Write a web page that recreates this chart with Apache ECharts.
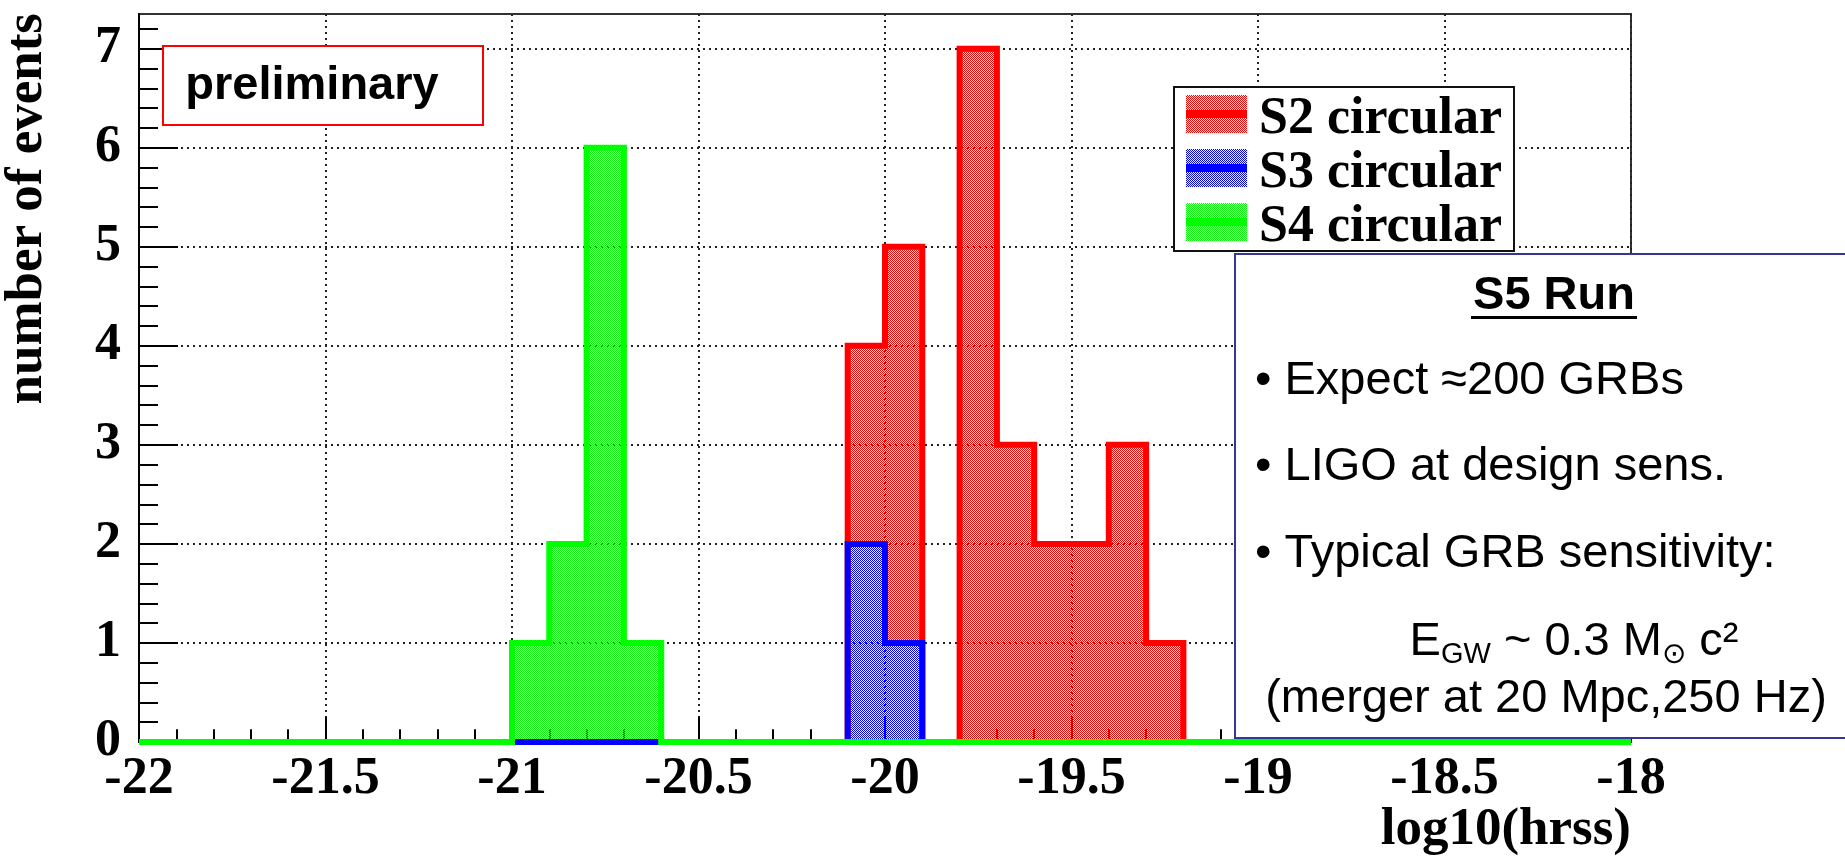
<!DOCTYPE html>
<html>
<head>
<meta charset="utf-8">
<script src="https://cdn.jsdelivr.net/npm/echarts@6.0.0/dist/echarts.min.js"></script>
<style>
html,body{margin:0;padding:0;background:#ffffff;}
#chart{width:1845px;height:857px;}
</style>
</head>
<body>
<div id="chart"></div>
<script>
// ---- data ----
// histogram bin edges, 0.1 wide, from -22 to -18
const binEdges = [
  -22.0,-21.9,-21.8,-21.7,-21.6,-21.5,-21.4,-21.3,-21.2,-21.1,
  -21.0,-20.9,-20.8,-20.7,-20.6,-20.5,-20.4,-20.3,-20.2,-20.1,
  -20.0,-19.9,-19.8,-19.7,-19.6,-19.5,-19.4,-19.3,-19.2,-19.1,
  -19.0,-18.9,-18.8,-18.7,-18.6,-18.5,-18.4,-18.3,-18.2,-18.1,
  -18.0
];
const s2Counts = [
  0,0,0,0,0,0,0,0,0,0,
  0,0,0,0,0,0,0,0,0,4,
  5,0,7,3,2,2,3,1,0,0,
  0,0,0,0,0,0,0,0,0,0
];
const s3Counts = [
  0,0,0,0,0,0,0,0,0,0,
  0,0,0,0,0,0,0,0,0,2,
  1,0,0,0,0,0,0,0,0,0,
  0,0,0,0,0,0,0,0,0,0
];
const s4Counts = [
  0,0,0,0,0,0,0,0,0,0,
  1,2,6,1,0,0,0,0,0,0,
  0,0,0,0,0,0,0,0,0,0,
  0,0,0,0,0,0,0,0,0,0
];
const seriesNames = ['S2 circular', 'S3 circular', 'S4 circular'];
const yTickValues = [0, 1, 2, 3, 4, 5, 6, 7];
const infoLines = [
  '\u2022 Expect \u2248200 GRBs',
  '\u2022 LIGO at design sens.',
  '\u2022 Typical GRB sensitivity:'
];

// ---- helpers ----
const SERIF = '"Liberation Serif","Times New Roman",serif';
const SANS = '"Liberation Sans",Arial,"DejaVu Sans",sans-serif';
const colors = ['#ff0000', '#0000ff', '#00ff00'];

function histPoints(counts) {
  const pts = counts.map((c, i) => [binEdges[i], c]);
  pts.push([binEdges[counts.length], counts[counts.length - 1]]);
  return pts;
}
function makePattern(color) {
  const c = document.createElement('canvas');
  c.width = 2; c.height = 2;
  const ctx = c.getContext('2d');
  ctx.fillStyle = color;
  ctx.fillRect(0, 0, 1, 1);
  ctx.fillRect(1, 1, 1, 1);
  return { image: c, repeat: 'repeat' };
}
const minorY = [];
yTickValues.forEach(v => { for (let k = 1; k < 5; k++) { const m = +(v + 0.2 * k).toFixed(2); if (m < 7.35) minorY.push(m); } });

const allCounts = [s2Counts, s3Counts, s4Counts];
const series = allCounts.map((counts, i) => ({
  type: 'line',
  name: seriesNames[i],
  data: histPoints(counts),
  step: 'end',
  symbol: 'none',
  showSymbol: false,
  clip: false,
  xAxisIndex: 0,
  yAxisIndex: 0,
  lineStyle: { color: colors[i], width: 6, cap: 'butt', join: 'miter' },
  itemStyle: { color: colors[i] },
  areaStyle: { color: makePattern(colors[i]), opacity: 1, origin: 'start' },
  emphasis: { disabled: true },
  silent: true
}));

// legend (ROOT style box) geometry
const LEG = { x: 1174, y: 87, w: 340, h: 164, swX: 1186, swW: 61, swH: 38, sw0: 114, pitch: 54, txtX: 1259, txt0: 120 };

const graphics = [];
graphics.push({
  type: 'rect', z: 110,
  shape: { x: LEG.x, y: LEG.y, width: LEG.w, height: LEG.h },
  style: { fill: '#ffffff', stroke: '#111', lineWidth: 2 }
});
seriesNames.forEach((n, i) => {
  const cy = LEG.sw0 + i * LEG.pitch;
  graphics.push({
    type: 'rect', z: 111,
    shape: { x: LEG.swX, y: cy - LEG.swH / 2, width: LEG.swW, height: LEG.swH },
    style: { fill: makePattern(colors[i]) }
  });
  graphics.push({
    type: 'rect', z: 112,
    shape: { x: LEG.swX, y: cy - 4, width: LEG.swW, height: 8 },
    style: { fill: colors[i] }
  });
  graphics.push({
    type: 'text', z: 112, x: LEG.txtX, y: LEG.txt0 + i * LEG.pitch,
    style: { text: n, font: 'bold 52px ' + SERIF, fill: '#000', align: 'left', verticalAlign: 'middle' }
  });
});
// y axis title
graphics.push({
  type: 'text', x: 27, y: 13, rotation: Math.PI / 2, z: 100,
  style: { text: 'number of events', font: 'bold 53px ' + SERIF, fill: '#000', align: 'right', verticalAlign: 'middle' }
});
// x axis title
graphics.push({
  type: 'text', x: 1631, y: 830, z: 100,
  style: { text: 'log10(hrss)', font: 'bold 53px ' + SERIF, fill: '#000', align: 'right', verticalAlign: 'middle' }
});
// preliminary box
graphics.push({
  type: 'rect', z: 100,
  shape: { x: 163, y: 46, width: 320, height: 79 },
  style: { fill: '#ffffff', stroke: '#ff0000', lineWidth: 2 }
});
graphics.push({
  type: 'text', x: 312, y: 86, z: 101,
  style: { text: 'preliminary', font: 'bold 47px ' + SANS, fill: '#000', align: 'center', verticalAlign: 'middle' }
});
// S5 box
graphics.push({
  type: 'rect', z: 100,
  shape: { x: 1235, y: 254, width: 640, height: 484 },
  style: { fill: '#ffffff', stroke: '#35359a', lineWidth: 2 }
});
graphics.push({
  type: 'text', x: 1554, y: 296, z: 101,
  style: { text: 'S5 Run', font: 'bold 47px ' + SANS, fill: '#000', align: 'center', verticalAlign: 'middle' }
});
graphics.push({
  type: 'rect', z: 101,
  shape: { x: 1471, y: 316, width: 166, height: 3 },
  style: { fill: '#000' }
});
const lineY = [381, 467, 554];
infoLines.forEach((t, i) => {
  graphics.push({
    type: 'text', x: 1255, y: lineY[i], z: 101,
    style: { text: t, font: '47px ' + SANS, fill: '#000', align: 'left', verticalAlign: 'middle' }
  });
});
graphics.push({
  type: 'text', x: 1574, y: 642, z: 101,
  style: {
    text: '{n|E}{s|GW}{n| ~ 0.3 M}{s|\u2299}{n| c\u00b2}',
    align: 'center', verticalAlign: 'middle',
    rich: {
      n: { fontSize: 47, fontFamily: SANS, fill: '#000', lineHeight: 54, verticalAlign: 'middle' },
      s: { fontSize: 29, fontFamily: SANS, fill: '#000', lineHeight: 18, verticalAlign: 'bottom' }
    }
  }
});
graphics.push({
  type: 'text', x: 1546, y: 699, z: 101,
  style: { text: '(merger at 20 Mpc,250 Hz)', font: '47px ' + SANS, fill: '#000', align: 'center', verticalAlign: 'middle' }
});

const gridLine = { show: true, lineStyle: { color: '#222', width: 2, type: [2, 4] } };
const tickStyle = { color: '#000', width: 2 };

const option = {
  animation: false,
  backgroundColor: '#ffffff',
  grid: { left: 139, right: 214, top: 14, bottom: 115, show: true, borderColor: '#333', borderWidth: 2, backgroundColor: 'transparent' },
  xAxis: {
    type: 'value', min: -22, max: -18, interval: 0.5,
    axisLine: { show: true, onZero: false, lineStyle: { color: '#000', width: 2 } },
    axisTick: { show: true, inside: true, length: 25, lineStyle: tickStyle },
    minorTick: { show: true, splitNumber: 5, length: 12.7, lineStyle: tickStyle },
    axisLabel: { fontFamily: SERIF, fontWeight: 'bold', fontSize: 52, color: '#000', margin: 12, formatter: v => String(v) },
    splitLine: gridLine
  },
  yAxis: [
    {
      type: 'value', min: 0, max: 7.35, interval: 1, position: 'left',
      axisLine: { show: true, onZero: false, lineStyle: { color: '#000', width: 2 } },
      axisTick: { show: true, inside: true, length: 39, lineStyle: tickStyle, customValues: yTickValues },
      axisLabel: { fontFamily: SERIF, fontWeight: 'bold', fontSize: 52, color: '#000', margin: 18, padding: [8, 0, 0, 0], customValues: yTickValues },
      splitLine: gridLine
    },
    {
      type: 'value', min: 0, max: 7.35, interval: 1, position: 'left', offset: 0,
      axisLine: { show: false },
      axisLabel: { show: false },
      splitLine: { show: false },
      axisTick: { show: true, inside: true, length: 19, lineStyle: tickStyle, customValues: minorY }
    }
  ],
  graphic: graphics,
  series: series
};

const chart = echarts.init(document.getElementById('chart'), null, { renderer: 'canvas' });
chart.setOption(option);
</script>
</body>
</html>
